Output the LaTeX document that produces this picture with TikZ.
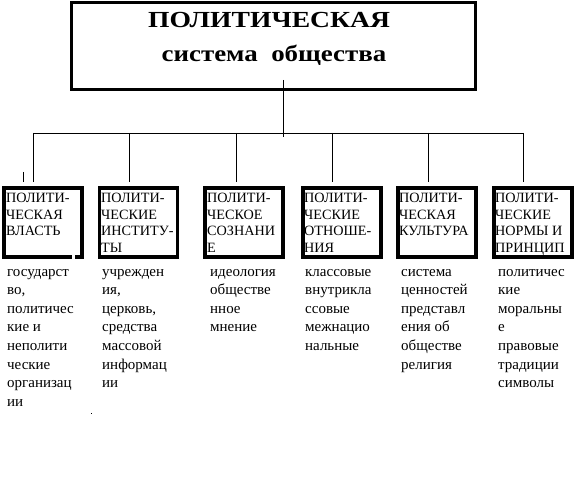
\documentclass[tikz,border=0pt]{standalone}
\usepackage{fontspec}
\setmainfont{Liberation Serif}
\usepackage{graphicx}
\begin{document}
\begin{tikzpicture}[x=1bp,y=-1bp,
  topbox/.style={draw,line width=3bp,inner sep=0pt},
  smallbox/.style={draw,line width=3.5bp,inner sep=0pt,minimum width=78bp,minimum height=69bp},
  conn/.style={line width=0.8bp},
  boxtext/.style={anchor=base west,inner sep=0pt,font=\fontsize{14.2bp}{16.7bp}\selectfont},
  desc/.style={anchor=base west,inner sep=0pt,font=\fontsize{15bp}{18.6bp}\selectfont}]
\useasboundingbox[fill=white] (0,0) rectangle (575,483);
% top box
\node[topbox,minimum width=403bp,minimum height=87bp] (top) at (273.5,46.5) {};
\node[anchor=base,inner sep=0pt,font=\fontsize{23bp}{23bp}\selectfont\bfseries] (t1) at (269,28) {\scalebox{1.2}[1]{ПОЛИТИЧЕСКАЯ}};
\node[anchor=base,inner sep=0pt,font=\fontsize{23bp}{23bp}\selectfont\bfseries] (t2) at (274,62) {\scalebox{1.17}[1]{система\ \ общества}};
% main connector and bus
\coordinate (m1) at (283,80);
\coordinate (m2) at (283,137);
\coordinate (hl) at (33,133);
\coordinate (hr) at (523,133);
\draw[conn] (m1) -- (m2);
\draw[conn] (hl) -- (hr);
% small boxes
\node[smallbox] (b1) at (43,222.5) {};
\node[smallbox] (b2) at (138.5,222.5) {};
\node[smallbox] (b3) at (244,222.5) {};
\node[smallbox] (b4) at (342,222.5) {};
\node[smallbox] (b5) at (437,222.5) {};
\node[smallbox] (b6) at (533,222.5) {};
% gap in bottom border of box 1
\fill[white] (72,254) rectangle (74.5,260);
% drops
\foreach \x/\n in {33/1,129/2,236/3,332/4,428/5,523/6}{
  \coordinate (d\n) at (\x,133);
  \coordinate (e\n) at (\x,182);
  \draw[conn] (d\n) -- (e\n);
}
\coordinate (s1) at (23,172);
\coordinate (s2) at (23,182);
\draw[conn] (s1) -- (s2);
% box texts
\node[boxtext] (x1) at (6,202.5) {\parbox[t]{80bp}{ПОЛИТИ-\\ЧЕСКАЯ\\ВЛАСТЬ}};
\node[boxtext] (x2) at (101,202.5) {\parbox[t]{80bp}{ПОЛИТИ-\\ЧЕСКИЕ\\ИНСТИТУ-\\ТЫ}};
\node[boxtext] (x3) at (207,202.5) {\parbox[t]{80bp}{ПОЛИТИ-\\ЧЕСКОЕ\\СОЗНАНИ\\Е}};
\node[boxtext] (x4) at (304,202.5) {\parbox[t]{80bp}{ПОЛИТИ-\\ЧЕСКИЕ\\ОТНОШЕ-\\НИЯ}};
\node[boxtext] (x5) at (399,202.5) {\parbox[t]{80bp}{ПОЛИТИ-\\ЧЕСКАЯ\\КУЛЬТУРА}};
\node[boxtext] (x6) at (495,202.5) {\parbox[t]{80bp}{ПОЛИТИ-\\ЧЕСКИЕ\\НОРМЫ И\\ПРИНЦИП}};
% descriptions
\node[desc] (y1) at (7,276) {\parbox[t]{90bp}{государст\\во,\\политичес\\кие и\\неполити\\ческие\\организац\\ии}};
\node[desc] (y2) at (102,276) {\parbox[t]{90bp}{учрежден\\ия,\\церковь,\\средства\\массовой\\информац\\ии}};
\node[desc] (y3) at (210,276) {\parbox[t]{90bp}{идеология\\обществе\\нное\\мнение}};
\node[desc] (y4) at (305,276) {\parbox[t]{90bp}{классовые\\внутрикла\\ссовые\\межнацио\\нальные}};
\node[desc] (y5) at (401,276) {\parbox[t]{90bp}{система\\ценностей\\представл\\ения об\\обществе\\религия}};
\node[desc] (y6) at (498,276) {\parbox[t]{90bp}{политичес\\кие\\моральны\\е\\правовые\\традиции\\символы}};
% stray dot
\fill (91,413) rectangle (92,414);
\end{tikzpicture}
\end{document}
